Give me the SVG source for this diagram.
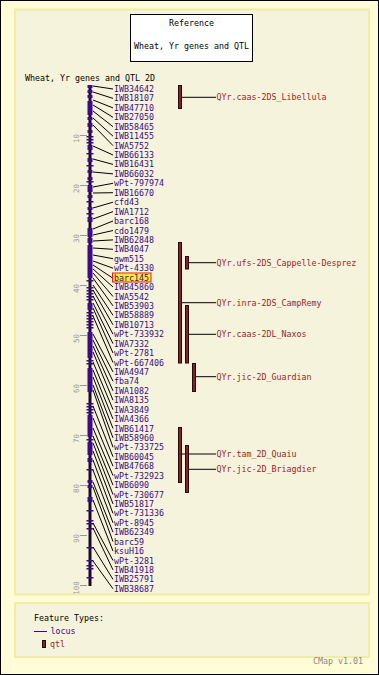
<svg xmlns="http://www.w3.org/2000/svg" width="379" height="675" viewBox="0 0 379 675">
<style>
text{font-family:"DejaVu Sans Mono","Liberation Mono",monospace;font-size:8.3px}
.blk{fill:#000}
.lbl{fill:#3c0a82}
.qlbl{fill:#952828}
.tick{fill:#3f0a8a}
.blkf{fill:#3f0a8a}
.qtl{fill:#7d2626;stroke:#2a0808;stroke-width:1}
.con line{stroke:#000;stroke-width:1}
.sc line{stroke:#999;stroke-width:1}
.sc text{fill:#999;font-size:7.5px;text-anchor:middle}
.panel{fill:#f5f3dc;stroke:#f3eca6;stroke-width:2}
</style>
<rect x="0" y="0" width="379" height="675" fill="#fffcd6" stroke="#000" stroke-width="2"/>
<rect class="panel" x="15" y="9.5" width="354" height="585"/>
<rect class="panel" x="15" y="603" width="354" height="54"/>
<g id="titlebox">
<rect x="130.5" y="14.5" width="122" height="47" fill="#fff" stroke="#000"/>
<text class="blk" x="191.5" y="25.5" text-anchor="middle">Reference</text>
<text class="blk" x="191.5" y="49" text-anchor="middle">Wheat, Yr genes and QTL</text>
</g>
<text class="blk" x="25" y="80.5">Wheat, Yr genes and QTL 2D</text>
<g id="scale" class="sc">
<line x1="80" y1="135.5" x2="87" y2="135.5"/><text transform="translate(78.5,138.5) rotate(-90)">10</text>
<line x1="80" y1="185.5" x2="87" y2="185.5"/><text transform="translate(78.5,188.5) rotate(-90)">20</text>
<line x1="80" y1="235.5" x2="87" y2="235.5"/><text transform="translate(78.5,238.5) rotate(-90)">30</text>
<line x1="80" y1="285.5" x2="87" y2="285.5"/><text transform="translate(78.5,288.5) rotate(-90)">40</text>
<line x1="80" y1="335.5" x2="87" y2="335.5"/><text transform="translate(78.5,338.5) rotate(-90)">50</text>
<line x1="80" y1="385.5" x2="87" y2="385.5"/><text transform="translate(78.5,388.5) rotate(-90)">60</text>
<line x1="80" y1="435.5" x2="87" y2="435.5"/><text transform="translate(78.5,438.5) rotate(-90)">70</text>
<line x1="80" y1="485.5" x2="87" y2="485.5"/><text transform="translate(78.5,488.5) rotate(-90)">80</text>
<line x1="80" y1="535.5" x2="87" y2="535.5"/><text transform="translate(78.5,538.5) rotate(-90)">90</text>
<line x1="80" y1="585.5" x2="87" y2="585.5"/><text transform="translate(78.5,588) rotate(-90)">100</text>
</g>
<g id="map-bar">
<rect x="88.5" y="85" width="3" height="501" fill="#1a0828"/>
<g class="blkf">
<rect x="87.5" y="85" width="5" height="3"/><rect x="87.5" y="90" width="5" height="3"/><rect x="87.5" y="95" width="5" height="3"/>
<rect x="87.5" y="101" width="5" height="14"/><rect x="87.5" y="117" width="5" height="3"/><rect x="87.5" y="123" width="5" height="4"/>
<rect x="87.5" y="130" width="5" height="3"/><rect x="87.5" y="145" width="5" height="5"/><rect x="87.5" y="158" width="5" height="4"/>
<rect x="87.5" y="170" width="5" height="3"/><rect x="87.5" y="177" width="5" height="3"/><rect x="87.5" y="185" width="5" height="7"/>
<rect x="87.5" y="195" width="5" height="3"/><rect x="87.5" y="207" width="5" height="3"/><rect x="87.5" y="217" width="5" height="5"/>
<rect x="87.5" y="228" width="5" height="9"/><rect x="87.5" y="238" width="5" height="5"/><rect x="87.5" y="245" width="5" height="33"/>
<rect x="87.5" y="303" width="5" height="7"/><rect x="87.5" y="332" width="5" height="26"/><rect x="87.5" y="368" width="5" height="24"/>
<rect x="87.5" y="415" width="5" height="22"/><rect x="87.5" y="442" width="5" height="13"/><rect x="87.5" y="458" width="5" height="4"/>
<rect x="87.5" y="480" width="5" height="3"/><rect x="87.5" y="485" width="5" height="3"/><rect x="87.5" y="497" width="5" height="5"/>
</g>
<g class="tick">
<rect x="86.5" y="136" width="7" height="1.5"/><rect x="86.5" y="139" width="7" height="1.5"/><rect x="86.5" y="142" width="7" height="1.5"/>
<rect x="86.5" y="153" width="7" height="1.5"/><rect x="86.5" y="165" width="7" height="1.5"/><rect x="86.5" y="181" width="7" height="1.5"/>
<rect x="86.5" y="201" width="7" height="1.5"/><rect x="86.5" y="213" width="7" height="1.5"/><rect x="86.5" y="280" width="7" height="1.5"/>
<rect x="86.5" y="287" width="7" height="1.5"/><rect x="86.5" y="290" width="7" height="1.5"/><rect x="86.5" y="293" width="7" height="1.5"/>
<rect x="86.5" y="296" width="7" height="1.5"/><rect x="86.5" y="299" width="7" height="1.5"/><rect x="86.5" y="312" width="7" height="1.5"/>
<rect x="86.5" y="315" width="7" height="1.5"/><rect x="86.5" y="318" width="7" height="1.5"/><rect x="86.5" y="321" width="7" height="1.5"/>
<rect x="86.5" y="324" width="7" height="1.5"/><rect x="86.5" y="327" width="7" height="1.5"/><rect x="86.5" y="360" width="7" height="1.5"/>
<rect x="86.5" y="363" width="7" height="1.5"/><rect x="86.5" y="403" width="7" height="1.5"/><rect x="86.5" y="406" width="7" height="1.5"/>
<rect x="86.5" y="409" width="7" height="1.5"/><rect x="86.5" y="412" width="7" height="1.5"/><rect x="86.5" y="439" width="7" height="1.5"/>
<rect x="86.5" y="469" width="7" height="1.5"/><rect x="86.5" y="510" width="7" height="1.5"/><rect x="86.5" y="520" width="7" height="1.5"/>
<rect x="86.5" y="523" width="7" height="1.5"/><rect x="86.5" y="528" width="7" height="1.5"/><rect x="86.5" y="547" width="7" height="1.5"/>
<rect x="86.5" y="560" width="7" height="1.5"/><rect x="86.5" y="565" width="7" height="1.5"/><rect x="86.5" y="568" width="7" height="1.5"/>
<rect x="86.5" y="577" width="7" height="1.5"/>
</g>
</g>
<g id="connectors" class="con">
<line x1="93" y1="86" x2="113" y2="89"/>
<line x1="93" y1="92" x2="113" y2="98.4"/>
<line x1="93" y1="100" x2="113" y2="107.9"/>
<line x1="93" y1="105" x2="113" y2="117.3"/>
<line x1="93" y1="111" x2="113" y2="126.7"/>
<line x1="93" y1="118" x2="113" y2="136.2"/>
<line x1="93" y1="125" x2="113" y2="145.6"/>
<line x1="93" y1="146" x2="113" y2="155"/>
<line x1="93" y1="159" x2="113" y2="164.4"/>
<line x1="93" y1="172" x2="113" y2="173.9"/>
<line x1="93" y1="187" x2="113" y2="183.3"/>
<line x1="93" y1="193" x2="113" y2="192.7"/>
<line x1="93" y1="208" x2="113" y2="202.2"/>
<line x1="93" y1="219" x2="113" y2="211.6"/>
<line x1="93" y1="229" x2="113" y2="221"/>
<line x1="93" y1="235" x2="113" y2="230.5"/>
<line x1="93" y1="241" x2="113" y2="239.9"/>
<line x1="93" y1="248" x2="113" y2="249.3"/>
<line x1="93" y1="255" x2="113" y2="258.7"/>
<line x1="93" y1="261" x2="113" y2="268.2"/>
<line x1="93" y1="265" x2="112" y2="277.6"/>
<line x1="93" y1="269" x2="113" y2="287"/>
<line x1="93" y1="273" x2="113" y2="296.5"/>
<line x1="93" y1="278" x2="113" y2="305.9"/>
<line x1="93" y1="285" x2="113" y2="315.3"/>
<line x1="93" y1="290" x2="113" y2="324.8"/>
<line x1="93" y1="296" x2="113" y2="334.2"/>
<line x1="93" y1="303" x2="113" y2="343.6"/>
<line x1="93" y1="308" x2="113" y2="353"/>
<line x1="93" y1="316" x2="113" y2="362.5"/>
<line x1="93" y1="334" x2="113" y2="371.9"/>
<line x1="93" y1="340" x2="113" y2="381.3"/>
<line x1="93" y1="346" x2="113" y2="390.8"/>
<line x1="93" y1="352" x2="113" y2="400.2"/>
<line x1="93" y1="362" x2="113" y2="409.6"/>
<line x1="93" y1="370" x2="113" y2="419.1"/>
<line x1="93" y1="377" x2="113" y2="428.5"/>
<line x1="93" y1="385" x2="113" y2="437.9"/>
<line x1="93" y1="390" x2="113" y2="447.3"/>
<line x1="93" y1="406" x2="113" y2="456.8"/>
<line x1="93" y1="418" x2="113" y2="466.2"/>
<line x1="93" y1="428" x2="113" y2="475.6"/>
<line x1="93" y1="436" x2="113" y2="485.1"/>
<line x1="93" y1="443" x2="113" y2="494.5"/>
<line x1="93" y1="451" x2="113" y2="503.9"/>
<line x1="93" y1="460" x2="113" y2="513.4"/>
<line x1="93" y1="470" x2="113" y2="522.8"/>
<line x1="93" y1="482" x2="113" y2="532.2"/>
<line x1="93" y1="487" x2="113" y2="541.6"/>
<line x1="93" y1="500" x2="113" y2="551.1"/>
<line x1="93" y1="523" x2="113" y2="560.5"/>
<line x1="93" y1="528" x2="113" y2="569.9"/>
<line x1="93" y1="547" x2="113" y2="579.4"/>
<line x1="93" y1="561" x2="113" y2="588.8"/>
<line x1="182" y1="97.3" x2="216" y2="97.3"/>
<line x1="188" y1="262.7" x2="216" y2="262.7"/>
<line x1="182" y1="302.7" x2="216" y2="302.7"/>
<line x1="188" y1="334.3" x2="216" y2="334.3"/>
<line x1="196" y1="376.7" x2="216" y2="376.7"/>
<line x1="182" y1="454" x2="216" y2="454"/>
<line x1="188" y1="469.3" x2="216" y2="469.3"/>
</g>
<g id="loci" class="lbl">
<g id="IWB34642"><text x="114" y="92">IWB34642</text></g>
<g id="IWB18107"><text x="114" y="101.4">IWB18107</text></g>
<g id="IWB47710"><text x="114" y="110.9">IWB47710</text></g>
<g id="IWB27050"><text x="114" y="120.3">IWB27050</text></g>
<g id="IWB58465"><text x="114" y="129.7">IWB58465</text></g>
<g id="IWB11455"><text x="114" y="139.2">IWB11455</text></g>
<g id="IWA5752"><text x="114" y="148.6">IWA5752</text></g>
<g id="IWB66133"><text x="114" y="158">IWB66133</text></g>
<g id="IWB16431"><text x="114" y="167.4">IWB16431</text></g>
<g id="IWB66032"><text x="114" y="176.9">IWB66032</text></g>
<g id="wPt-797974"><text x="114" y="186.3">wPt-797974</text></g>
<g id="IWB16670"><text x="114" y="195.7">IWB16670</text></g>
<g id="cfd43"><text x="114" y="205.2">cfd43</text></g>
<g id="IWA1712"><text x="114" y="214.6">IWA1712</text></g>
<g id="barc168"><text x="114" y="224">barc168</text></g>
<g id="cdo1479"><text x="114" y="233.5">cdo1479</text></g>
<g id="IWB62848"><text x="114" y="242.9">IWB62848</text></g>
<g id="IWB4047"><text x="114" y="252.3">IWB4047</text></g>
<g id="gwm515"><text x="114" y="261.7">gwm515</text></g>
<g id="wPt-4330"><text x="114" y="271.2">wPt-4330</text></g>
<g id="barc145"><rect x="112.5" y="273" width="38.5" height="9" fill="#ffe838" stroke="#e0201c" stroke-width="1"/><text x="114" y="280.6">barc145</text></g>
<g id="IWB45860"><text x="114" y="290">IWB45860</text></g>
<g id="IWA5542"><text x="114" y="299.5">IWA5542</text></g>
<g id="IWB53903"><text x="114" y="308.9">IWB53903</text></g>
<g id="IWB58889"><text x="114" y="318.3">IWB58889</text></g>
<g id="IWB10713"><text x="114" y="327.8">IWB10713</text></g>
<g id="wPt-733932"><text x="114" y="337.2">wPt-733932</text></g>
<g id="IWA7332"><text x="114" y="346.6">IWA7332</text></g>
<g id="wPt-2781"><text x="114" y="356">wPt-2781</text></g>
<g id="wPt-667406"><text x="114" y="365.5">wPt-667406</text></g>
<g id="IWA4947"><text x="114" y="374.9">IWA4947</text></g>
<g id="fba74"><text x="114" y="384.3">fba74</text></g>
<g id="IWA1082"><text x="114" y="393.8">IWA1082</text></g>
<g id="IWA8135"><text x="114" y="403.2">IWA8135</text></g>
<g id="IWA3849"><text x="114" y="412.6">IWA3849</text></g>
<g id="IWA4366"><text x="114" y="422.1">IWA4366</text></g>
<g id="IWB61417"><text x="114" y="431.5">IWB61417</text></g>
<g id="IWB58960"><text x="114" y="440.9">IWB58960</text></g>
<g id="wPt-733725"><text x="114" y="450.3">wPt-733725</text></g>
<g id="IWB60045"><text x="114" y="459.8">IWB60045</text></g>
<g id="IWB47668"><text x="114" y="469.2">IWB47668</text></g>
<g id="wPt-732923"><text x="114" y="478.6">wPt-732923</text></g>
<g id="IWB6090"><text x="114" y="488.1">IWB6090</text></g>
<g id="wPt-730677"><text x="114" y="497.5">wPt-730677</text></g>
<g id="IWB51817"><text x="114" y="506.9">IWB51817</text></g>
<g id="wPt-731336"><text x="114" y="516.4">wPt-731336</text></g>
<g id="wPt-8945"><text x="114" y="525.8">wPt-8945</text></g>
<g id="IWB62349"><text x="114" y="535.2">IWB62349</text></g>
<g id="barc59"><text x="114" y="544.6">barc59</text></g>
<g id="ksuH16"><text x="114" y="554.1">ksuH16</text></g>
<g id="wPt-3281"><text x="114" y="563.5">wPt-3281</text></g>
<g id="IWB41918"><text x="114" y="572.9">IWB41918</text></g>
<g id="IWB25791"><text x="114" y="582.4">IWB25791</text></g>
<g id="IWB38687"><text x="114" y="591.8">IWB38687</text></g>
</g>
<g id="qtls">
<g id="qtl-libellula"><rect class="qtl" x="178.5" y="85.5" width="3" height="23"/><text class="qlbl" x="216.5" y="100.3">QYr.caas-2DS_Libellula</text></g>
<g id="qtl-camp-remy"><rect class="qtl" x="178.5" y="242.5" width="3" height="120.5"/><text class="qlbl" x="216.5" y="305.7">QYr.inra-2DS_CampRemy</text></g>
<g id="qtl-cappelle"><rect class="qtl" x="185.5" y="256.5" width="3" height="12.5"/><text class="qlbl" x="216.5" y="265.7">QYr.ufs-2DS_Cappelle-Desprez</text></g>
<g id="qtl-naxos"><rect class="qtl" x="185.5" y="305.5" width="3" height="57.5"/><text class="qlbl" x="216.5" y="337.3">QYr.caas-2DL_Naxos</text></g>
<g id="qtl-guardian"><rect class="qtl" x="192.5" y="363.5" width="3" height="28"/><text class="qlbl" x="216.5" y="379.7">QYr.jic-2D_Guardian</text></g>
<g id="qtl-quaiu"><rect class="qtl" x="178.5" y="427.5" width="3" height="55"/><text class="qlbl" x="216.5" y="457">QYr.tam_2D_Quaiu</text></g>
<g id="qtl-briagdier"><rect class="qtl" x="185.5" y="445.5" width="3" height="47"/><text class="qlbl" x="216.5" y="472.3">QYr.jic-2D_Briagdier</text></g>
</g>
<g id="legend">
<text class="blk" x="34" y="620.7">Feature Types:</text>
<line x1="34" y1="631.5" x2="47" y2="631.5" stroke="#3c0a82" stroke-width="1"/>
<text class="lbl" x="50.5" y="634">locus</text>
<rect class="qtl" x="42.5" y="640.5" width="3" height="7"/>
<text class="qlbl" x="50" y="647.3">qtl</text>
</g>
<text x="363" y="664" text-anchor="end" fill="#888" font-size="7.5px">CMap v1.01</text>
</svg>
